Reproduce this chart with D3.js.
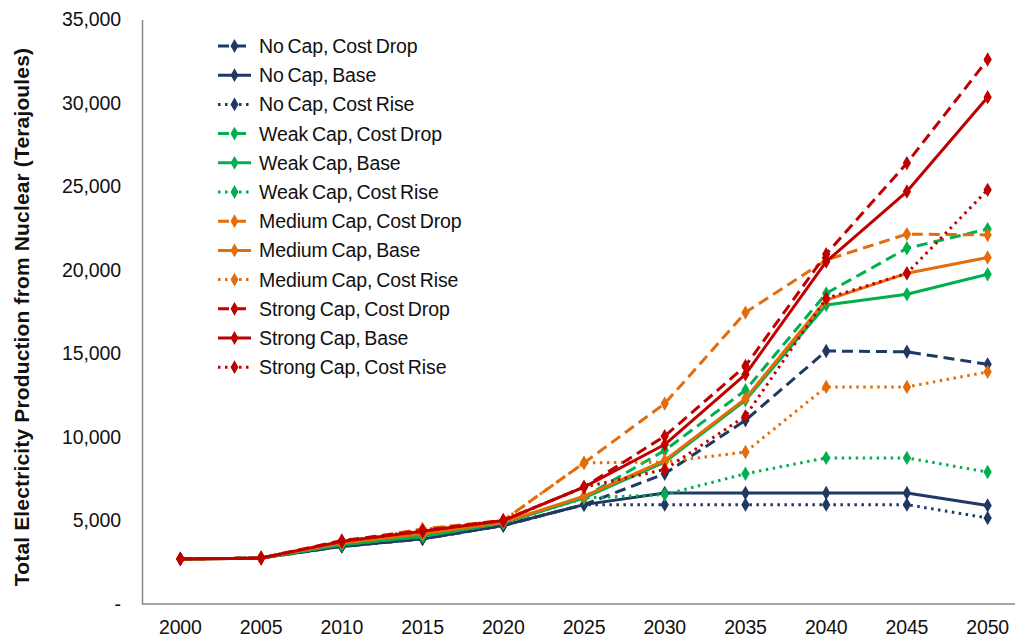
<!DOCTYPE html>
<html><head><meta charset="utf-8">
<script src="https://cdn.jsdelivr.net/npm/d3@7"></script>
<style>
body{margin:0;background:#fff;}
svg{font-family:"Liberation Sans",Arial,sans-serif;}
</style></head>
<body><svg id="c" width="1015" height="639"></svg>
<script>
const years = ["2000","2005","2010","2015","2020","2025","2030","2035","2040","2045","2050"];
const yTicks = [0,5000,10000,15000,20000,25000,30000,35000];
const seriesNames = ["No Cap, Cost Drop","No Cap, Base","No Cap, Cost Rise","Weak Cap, Cost Drop","Weak Cap, Base","Weak Cap, Cost Rise","Medium Cap, Cost Drop","Medium Cap, Base","Medium Cap, Cost Rise","Strong Cap, Cost Drop","Strong Cap, Base","Strong Cap, Cost Rise"];
const noCapDrop   = [2700,2750,3450,3900,4700,5950,7800,11000,15150,15100,14350];
const noCapBase   = [2700,2750,3450,3900,4700,5950,6650,6650,6650,6650,5900];
const noCapRise   = [2700,2750,3450,3900,4700,5950,5950,5950,5950,5950,5150];
const weakDrop    = [2700,2750,3550,4050,4850,6400,9200,12800,18600,21300,22450];
const weakBase    = [2700,2750,3550,4050,4850,6350,8500,12200,17900,18550,19750];
const weakRise    = [2700,2750,3550,4050,4850,6350,6550,7800,8750,8750,7900];
const mediumDrop  = [2700,2750,3700,4500,5000,8450,12000,17450,20600,22150,22100];
const mediumBase  = [2700,2750,3650,4200,4900,6450,8600,12300,18200,19800,20750];
const mediumRise  = [2700,2750,3700,4450,5000,8450,8500,9100,13000,13000,13900];
const strongDrop  = [2700,2750,3800,4400,5000,7000,10050,14250,20950,26400,32600];
const strongBase  = [2700,2750,3750,4350,5000,7000,9550,13750,20500,24700,30350];
const strongRise  = [2700,2750,3750,4350,5000,7000,8050,11250,18300,19800,24800];
const seriesValues = [noCapDrop,noCapBase,noCapRise,weakDrop,weakBase,weakRise,mediumDrop,mediumBase,mediumRise,strongDrop,strongBase,strongRise];

(function(){
const colors = ["#1F3864","#00B050","#E46C0A","#C00000"];
const dashes = ["11,6", null, "2.5,4.5"];
const series = seriesNames.map((n,i)=>({name:n, values:seriesValues[i], color:colors[Math.floor(i/3)], dash:dashes[i%3]}));

const svg = d3.select("#c");
const mLeft = 142, mBottom = 604, mTop = 19.5;
const x = d3.scaleBand().domain(years).range([140, 1028]);
const y = d3.scaleLinear().domain([0,35000]).range([mBottom, mTop]);
const cx = d => x(d) + x.bandwidth()/2;

const yAxis = svg.append("g").attr("transform",`translate(${mLeft},0)`)
  .call(d3.axisLeft(y).tickValues(yTicks).tickSize(0).tickPadding(21).tickFormat(v => v===0 ? "-" : d3.format(",")(v)));
yAxis.select(".domain").attr("stroke","#888").attr("stroke-width",1.5);
yAxis.selectAll("text").attr("font-size",19.5).attr("fill","#111").attr("font-family","Liberation Sans, Arial").attr("letter-spacing","-0.1");

const xAxis = svg.append("g").attr("transform",`translate(0,${mBottom})`)
  .call(d3.axisBottom(x).tickSize(0).tickPadding(16));
xAxis.select(".domain").attr("stroke","#888").attr("stroke-width",1.5).attr("d",`M${mLeft},0H1015`);
xAxis.selectAll("text").attr("font-size",19.5).attr("fill","#111").attr("font-family","Liberation Sans, Arial").attr("letter-spacing","-0.2");

svg.append("text").attr("transform","translate(28.5,317) rotate(-90)")
  .attr("text-anchor","middle").attr("font-size",21).attr("font-weight","bold").attr("fill","#111")
  .attr("letter-spacing","0.15")
  .text("Total Electricity Production from Nuclear (Terajoules)");

const line = d3.line().x((d,i)=>cx(years[i])).y(d=>y(d));
const diamond = d3.symbol().type(d3.symbolDiamond).size(60);

series.forEach(s=>{
  const g = svg.append("g");
  g.append("path").attr("d",line(s.values)).attr("fill","none").attr("stroke",s.color)
    .attr("stroke-width",3).attr("stroke-dasharray",s.dash).attr("stroke-linejoin","round");
  g.selectAll("path.m").data(s.values).enter().append("path").attr("class","m")
    .attr("d",diamond).attr("transform",(d,i)=>`translate(${cx(years[i])},${y(d)})`)
    .attr("fill",s.color);
});

const lg = svg.append("g");
series.forEach((s,i)=>{
  const yy = 46 + i*29.2;
  lg.append("line").attr("x1",218).attr("x2",251).attr("y1",yy).attr("y2",yy)
    .attr("stroke",s.color).attr("stroke-width",3).attr("stroke-dasharray",s.dash);
  lg.append("path").attr("d",d3.symbol().type(d3.symbolDiamond).size(55)).attr("transform",`translate(234.5,${yy})`).attr("fill",s.color);
  lg.append("text").attr("x",259).attr("y",yy+7).attr("font-size",19.5).attr("fill","#111")
    .attr("letter-spacing","-0.1").attr("word-spacing","-1.5").text(s.name);
});
})();
</script></body></html>
